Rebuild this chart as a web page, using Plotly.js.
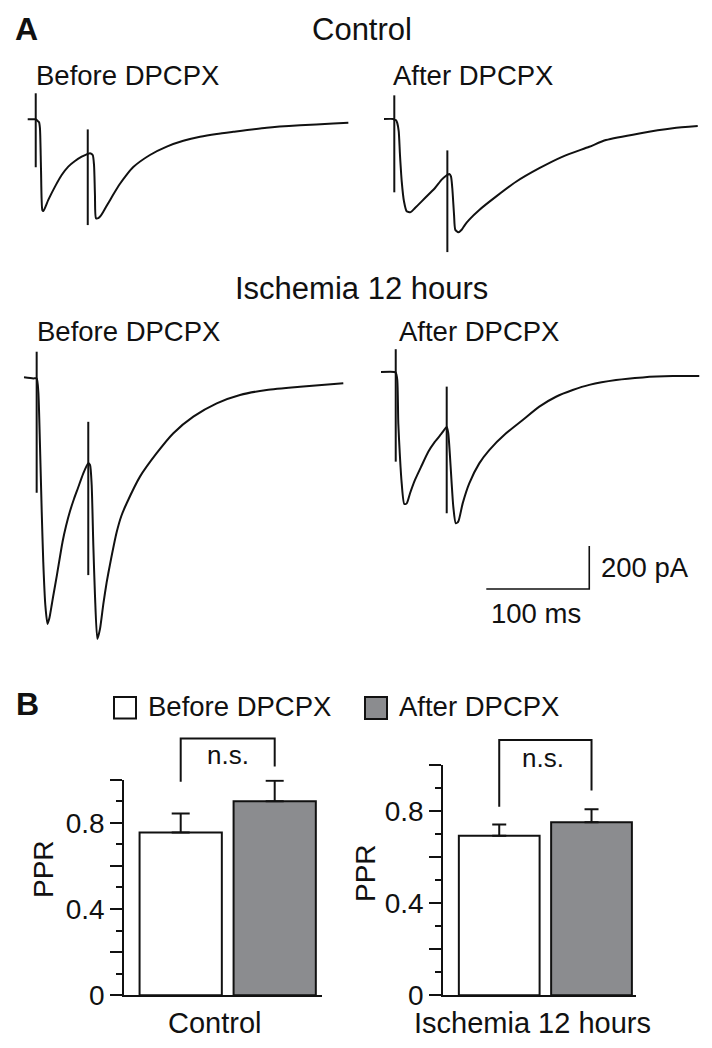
<!DOCTYPE html>
<html><head><meta charset="utf-8">
<script src="https://cdn.plot.ly/plotly-3.0.1.min.js"></script>
<style>html,body{margin:0;padding:0;background:#fff}#chart{width:712px;height:1048px}</style>
</head><body><div id="chart"></div>
<script>
// ---------- DATA (time in ms, current in pA relative to baseline) ----------
// Control, before DPCPX
const ctrlBeforeT = [0,5.4,7.7,9.7,11.0,11.9,12.9,14.2,15.2,20.0,26.5,33.0,39.4,45.9,52.4,57.3,58.3,60.5,63.1,64.4,65.3,66.3,68.5,71.0,73.4,76.7,79.9,83.1,89.6,96.0,102.5,118.7,135.0,151.1,167.3,183.5,199.6,232.0,264.4,296.7,311.3];
const ctrlBeforeI = [0,0,0,-8,-14,-42,-228,-422,-427,-375,-313,-259,-220,-194,-174,-163,-161,-158,-166,-213,-352,-460,-460,-448,-430,-402,-376,-350,-300,-258,-222,-166,-127,-100,-81,-68,-58,-39,-28,-20,-16];
const ctrlBeforeArtT = [7.8, 58.3];
const ctrlBeforeArtTop = [121, -47];
const ctrlBeforeArtBottom = [-223, -492];

// Control, after DPCPX
const ctrlAfterT = [0,9.0,10.0,11.7,12.9,14.3,15.5,17.2,19.4,22.0,25.9,30.1,36.6,43.0,49.5,56.0,60.9,61.5,63.4,65.0,66.3,68.0,69.2,72.1,75.4,78.6,82.8,92.5,108.7,128.2,150.8,173.5,199.3,215.5,247.9,280.3,304.6];
const ctrlAfterI = [0,0,-3,-6,-19,-57,-166,-290,-383,-429,-433,-414,-383,-352,-321,-282,-262,-260,-256,-267,-321,-445,-515,-527,-515,-492,-468,-423,-361,-292,-229,-175,-129,-98,-67,-43,-33];
const ctrlAfterArtT = [10.0, 61.5];
const ctrlAfterArtTop = [110, -146];
const ctrlAfterArtBottom = [-341, -619];

// Ischemia 12 hours, before DPCPX
const ischBeforeT = [0,9.0,12.3,13.9,15.5,17.2,18.7,20.7,22.8,24.6,26.9,28.2,32.0,37.4,40.8,44.7,48.5,52.4,57.3,62.4,64.1,65.7,67.3,68.9,71.2,73.8,77.0,80.2,83.5,90.0,94.5,99.7,112.6,128.8,145.0,164.4,187.1,209.7,235.6,268.0,310.0];
const ischBeforeI = [0,-5,-5,-67,-315,-625,-858,-1059,-1147,-1121,-1059,-1022,-919,-766,-692,-622,-566,-515,-450,-400,-408,-501,-780,-1013,-1217,-1170,-1055,-955,-870,-720,-645,-586,-462,-353,-260,-183,-121,-82,-59,-44,-28];
const ischBeforeArtT = [12.3, 62.4];
const ischBeforeArtTop = [119, -207];
const ischBeforeArtBottom = [-537, -920];

// Ischemia 12 hours, after DPCPX
const ischAfterT = [0,12.9,14.3,15.8,16.8,18.4,20.1,22.6,25.0,28.2,33.0,39.5,45.9,52.4,58.5,63.8,65.3,67.0,68.6,70.2,72.6,75.0,79.3,85.7,95.4,105.1,121.4,137.6,153.7,169.9,186.1,202.2,228.2,254.1,283.2,309.0];
const ischAfterI = [0,0,-3,-37,-239,-394,-518,-614,-611,-564,-502,-435,-371,-324,-288,-256,-285,-394,-518,-627,-704,-696,-611,-518,-425,-363,-285,-223,-161,-115,-84,-60,-37,-25,-19,-19];
const ischAfterArtT = [14.3, 63.8];
const ischAfterArtTop = [106, -68];
const ischAfterArtBottom = [-417, -657];

const scaleBarMs = 100;
const scaleBarPA = 200;

const conditions = ['Before DPCPX', 'After DPCPX'];
const groups = ['Control', 'Ischemia 12 hours'];
const pprControl = [0.754, 0.899];
const pprControlErr = [0.089, 0.096];
const pprIschemia = [0.694, 0.752];
const pprIschemiaErr = [0.049, 0.057];
const bracketControl = [0.99, 1.19, 1.19, 1.06];
const bracketIschemia = [0.82, 1.11, 1.11, 0.89];
const sigLabel = 'n.s.';

// ---------- LAYOUT HELPERS ----------
const W = 712, H = 1048;
const PX_PER_MS = 1.03, PX_PER_PA = 0.215;
const FONT = 'Liberation Sans, Arial, Helvetica, sans-serif';
const INK = '#111111';
const GRAY = '#8b8c8f';
const px = x => x / W;
const py = y => 1 - y / H;

const layout = {
  width: W, height: H,
  margin: {l: 0, r: 0, t: 0, b: 0, pad: 0},
  paper_bgcolor: '#ffffff', plot_bgcolor: 'rgba(0,0,0,0)',
  showlegend: false,
  bargap: 0.125,
  font: {family: FONT, color: INK, size: 27},
  annotations: [], shapes: []
};

// trace panels: origin pixel (trace start, baseline)
const tracePanels = [
  {t: ctrlBeforeT, i: ctrlBeforeI, at: ctrlBeforeArtT, atop: ctrlBeforeArtTop, abot: ctrlBeforeArtBottom, x0: 27.7, y0: 119.3},
  {t: ctrlAfterT,  i: ctrlAfterI,  at: ctrlAfterArtT,  atop: ctrlAfterArtTop,  abot: ctrlAfterArtBottom,  x0: 384,  y0: 119},
  {t: ischBeforeT, i: ischBeforeI, at: ischBeforeArtT, atop: ischBeforeArtTop, abot: ischBeforeArtBottom, x0: 24,   y0: 377.3},
  {t: ischAfterT,  i: ischAfterI,  at: ischAfterArtT,  atop: ischAfterArtTop,  abot: ischAfterArtBottom,  x0: 381,  y0: 372}
];
const data = [];
tracePanels.forEach((p, k) => {
  const n = k + 1;
  layout['xaxis' + n] = {domain: [0, 1], range: [-p.x0 / PX_PER_MS, (W - p.x0) / PX_PER_MS], visible: false, fixedrange: true, anchor: 'y' + n};
  layout['yaxis' + n] = {domain: [0, 1], range: [(p.y0 - H) / PX_PER_PA, p.y0 / PX_PER_PA], visible: false, fixedrange: true, anchor: 'x' + n};
  data.push({type: 'scatter', mode: 'lines', x: p.t, y: p.i, xaxis: 'x' + n, yaxis: 'y' + n,
    line: {color: INK, width: 2, shape: 'spline', smoothing: 0.6}, hoverinfo: 'skip'});
  const ax = [], ay = [];
  p.at.forEach((t, j) => { ax.push(t, t, null); ay.push(p.atop[j], p.abot[j], null); });
  data.push({type: 'scatter', mode: 'lines', x: ax, y: ay, xaxis: 'x' + n, yaxis: 'y' + n,
    line: {color: INK, width: 2}, hoverinfo: 'skip'});
});
// scale bar on the last trace's axes
const sbCornerT = 202.2, sbCornerI = -1009;
data.push({type: 'scatter', mode: 'lines', xaxis: 'x4', yaxis: 'y4',
  x: [sbCornerT - scaleBarMs, sbCornerT, sbCornerT],
  y: [sbCornerI, sbCornerI, sbCornerI + scaleBarPA],
  line: {color: INK, width: 1.6}, hoverinfo: 'skip'});

// bar panels
const barPanels = [
  {vals: pprControl, err: pprControlErr, br: bracketControl, left: 124.3, right: 321.7, zero: 995.3, perUnit: 215.75, xr: [-0.6, 1.5], cap: 9},
  {vals: pprIschemia, err: pprIschemiaErr, br: bracketIschemia, left: 443.3, right: 636, zero: 995.3, perUnit: 230, xr: [-0.606, 1.482], cap: 7}
];
barPanels.forEach((b, k) => {
  const n = 5 + k, nb = 7 + k;
  const xdom = [px(b.left), px(b.right)];
  layout['xaxis' + n] = {domain: xdom, range: b.xr, type: 'category', categoryorder: 'array', categoryarray: conditions, anchor: 'y' + n,
    showline: true, linewidth: 2, linecolor: INK, ticks: '', showticklabels: false, showgrid: false, zeroline: false, fixedrange: true};
  layout['yaxis' + n] = {domain: [py(b.zero), py(b.zero - b.perUnit)], range: [0, 1], anchor: 'x' + n, side: 'left',
    showline: true, linewidth: 2, linecolor: INK, showgrid: false, zeroline: false, fixedrange: true,
    tickmode: 'array', tickvals: [0, 0.2, 0.4, 0.6, 0.8, 1.0], ticktext: ['0', '', '0.4', '', '0.8', ''],
    ticks: 'outside', ticklen: 12, tickwidth: 2, tickcolor: INK,
    tickfont: {family: FONT, size: 28, color: INK},
    minor: {tickmode: 'array', tickvals: [0.1, 0.3, 0.5, 0.7, 0.9], ticks: 'outside', ticklen: 6, tickwidth: 2, tickcolor: INK, showgrid: false}};
  const topPx = 725;
  layout['xaxis' + nb] = {domain: xdom, range: b.xr, type: 'category', categoryorder: 'array', categoryarray: conditions, visible: false, fixedrange: true, anchor: 'y' + nb};
  layout['yaxis' + nb] = {domain: [py(b.zero), py(topPx)], range: [0, (b.zero - topPx) / b.perUnit], visible: false, fixedrange: true, anchor: 'x' + nb};
  data.push({type: 'bar', x: conditions, y: b.vals, xaxis: 'x' + n, yaxis: 'y' + n,
    marker: {color: ['#ffffff', GRAY], line: {color: INK, width: 2}},
    error_y: {type: 'data', symmetric: false, array: b.err, arrayminus: [0, 0], color: INK, thickness: 2, width: b.cap},
    hoverinfo: 'skip'});
  data.push({type: 'scatter', mode: 'lines', xaxis: 'x' + nb, yaxis: 'y' + nb,
    x: [conditions[0], conditions[0], conditions[1], conditions[1]], y: b.br,
    line: {color: INK, width: 2}, hoverinfo: 'skip'});
});

// ---------- TEXT ----------
function ann(text, x, y, size, xanchor, extra) {
  layout.annotations.push(Object.assign({text: text, x: px(x), y: py(y), xref: 'paper', yref: 'paper',
    xanchor: xanchor || 'left', yanchor: 'middle', showarrow: false,
    font: {family: FONT, size: size, color: INK}}, extra || {}));
}
ann('<b>A</b>', 13, 29, 32, 'left');
ann(groups[0], 362, 29, 31, 'center');
ann(conditions[0], 34, 75, 27.5, 'left');
ann(conditions[1], 391, 75, 27.5, 'left');
ann(groups[1], 361, 289, 31, 'center');
ann(conditions[0], 35, 331, 27.5, 'left');
ann(conditions[1], 397, 332, 27.5, 'left');
ann(scaleBarPA + ' pA', 599, 567, 27.5, 'left');
ann(scaleBarMs + ' ms', 536, 613, 27.5, 'center');
ann('<b>B</b>', 14, 704, 32, 'left');
ann(conditions[0], 146, 706, 27.5, 'left');
ann(conditions[1], 397, 706, 27.5, 'left');
ann(sigLabel, 228, 755, 26, 'center');
ann(sigLabel, 543, 758, 26, 'center');
ann('PPR', 43, 869, 28, 'center', {textangle: -90});
ann('PPR', 365, 873, 28, 'center', {textangle: -90});
ann(groups[0], 215, 1023, 29, 'center');
ann(groups[1], 532, 1023, 29, 'center');

// legend swatches
layout.shapes.push({type: 'rect', xref: 'paper', yref: 'paper', x0: px(114), x1: px(136), y0: py(718.5), y1: py(697), fillcolor: '#ffffff', line: {color: INK, width: 2}});
layout.shapes.push({type: 'rect', xref: 'paper', yref: 'paper', x0: px(365), x1: px(387), y0: py(719), y1: py(697), fillcolor: GRAY, line: {color: INK, width: 2}});

Plotly.newPlot('chart', data, layout, {staticPlot: true, displayModeBar: false});
</script>
</body></html>
